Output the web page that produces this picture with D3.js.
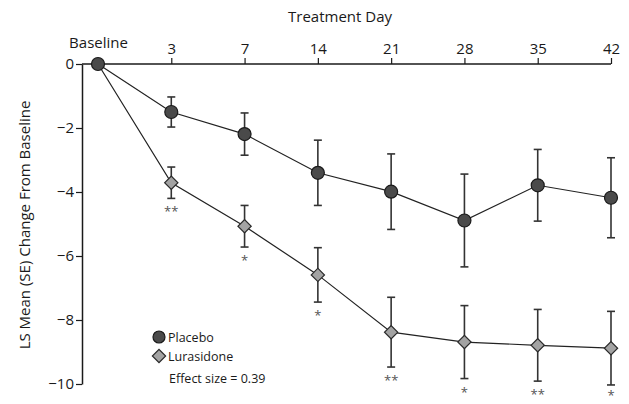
<!DOCTYPE html>
<html>
<head>
<meta charset="utf-8">
<script src="https://cdn.jsdelivr.net/npm/d3@7"></script>
<style>
body{margin:0;background:#fff;}
text{font-family:"Open Sans","DejaVu Sans",sans-serif;fill:#1a1a1a;}
</style>
</head>
<body>
<svg id="c" width="629" height="404"></svg>
<script>
const days = ["Baseline","3","7","14","21","28","35","42"];
const placeboMean = [0,-1.5,-2.19,-3.4,-3.99,-4.89,-3.79,-4.18];
const placeboSE   = [0,0.47,0.66,1.02,1.18,1.45,1.12,1.25];
const lurasMean   = [0,-3.71,-5.07,-6.59,-8.38,-8.69,-8.79,-8.88];
const lurasSE     = [0,0.49,0.65,0.85,1.09,1.14,1.12,1.15];
const signif      = ["","**","*","*","**","*","**","*"];
const yTicks = [0,-2,-4,-6,-8,-10];

const svg = d3.select("#c");
const x = d3.scalePoint().domain(days).range([98,611]);
const y = d3.scaleLinear().domain([-10,0]).range([384,64]);
const fmt = d => d===0 ? "0" : "\u2212"+Math.abs(d);

// left axis
const ya = svg.append("g").attr("transform","translate(82,0)")
  .call(d3.axisLeft(y).tickValues(yTicks).tickFormat(fmt).tickSize(6).tickSizeOuter(0));
ya.select(".domain").attr("stroke","#1a1a1a").attr("stroke-width",1.5);
ya.selectAll(".tick line").attr("stroke","#1a1a1a").attr("stroke-width",1.2);
ya.selectAll(".tick text").attr("font-size",15).attr("fill","#1a1a1a").attr("x",-8)
  .attr("font-family","'Open Sans',sans-serif");

// top axis
const xa = svg.append("g").attr("transform","translate(0,64)")
  .call(d3.axisTop(x).tickSize(6).tickSizeOuter(0));
xa.select(".domain").attr("d","M82,0H611").attr("stroke","#1a1a1a").attr("stroke-width",1.5);
xa.selectAll(".tick line").attr("stroke","#1a1a1a").attr("stroke-width",1.2);
xa.selectAll(".tick text").attr("font-size",15).attr("fill","#1a1a1a")
  .attr("font-family","'Open Sans',sans-serif")
  .attr("y",d=>d==="Baseline"?-16:-10);

svg.append("text").attr("x",340).attr("y",22).attr("text-anchor","middle")
  .attr("font-size",15).text("Treatment Day");
svg.append("text").attr("transform","translate(30,225) rotate(-90)")
  .attr("text-anchor","middle").attr("font-size",15).text("LS Mean (SE) Change From Baseline");

function series(mean, se){
  const data = days.map((d,i)=>({d, m:mean[i], s:se[i], i}));
  const g = svg.append("g");
  g.append("path").datum(data)
    .attr("d", d3.line().x(p=>x(p.d)).y(p=>y(p.m)))
    .attr("fill","none").attr("stroke","#222").attr("stroke-width",1.2);
  const eb = g.selectAll(".eb").data(data.filter(p=>p.s>0)).enter().append("g")
    .attr("stroke","#333").attr("stroke-width",1.6);
  eb.append("line").attr("x1",p=>x(p.d)).attr("x2",p=>x(p.d))
    .attr("y1",p=>y(p.m+p.s)).attr("y2",p=>y(p.m-p.s));
  eb.append("line").attr("x1",p=>x(p.d)-4).attr("x2",p=>x(p.d)+4)
    .attr("y1",p=>y(p.m+p.s)).attr("y2",p=>y(p.m+p.s));
  eb.append("line").attr("x1",p=>x(p.d)-4).attr("x2",p=>x(p.d)+4)
    .attr("y1",p=>y(p.m-p.s)).attr("y2",p=>y(p.m-p.s));
  return {g,data};
}
const L = series(lurasMean, lurasSE);
const P = series(placeboMean, placeboSE);

const diamond = d3.symbol().type(d3.symbolSquare).size(88);
L.g.selectAll(".m").data(L.data.filter(p=>p.i>0)).enter().append("path")
  .attr("d",diamond()).attr("transform",p=>`translate(${x(p.d)},${y(p.m)}) rotate(45)`)
  .attr("fill","#a3a3a3").attr("stroke","#2a2a2a").attr("stroke-width",1.2);
P.g.selectAll(".m").data(P.data).enter().append("circle")
  .attr("cx",p=>x(p.d)).attr("cy",p=>y(p.m)).attr("r",6.5)
  .attr("fill","#4a4a4a").attr("stroke","#1a1a1a").attr("stroke-width",1.2);

// significance asterisks
svg.selectAll(".sig").data(L.data.filter(p=>signif[p.i])).enter().append("text")
  .attr("x",p=>x(p.d)).attr("y",p=>Math.min(y(p.m-p.s)+18, 400)).attr("text-anchor","middle")
  .attr("font-size",13).style("fill","#555").text(p=>signif[p.i]);

// legend
const lg = svg.append("g");
lg.append("circle").attr("cx",159).attr("cy",337).attr("r",6)
  .attr("fill","#4a4a4a").attr("stroke","#1a1a1a").attr("stroke-width",1.2);
lg.append("path").attr("d",diamond()).attr("transform","translate(159,356) rotate(45)")
  .attr("fill","#a3a3a3").attr("stroke","#2a2a2a").attr("stroke-width",1.2);
lg.append("text").attr("x",168).attr("y",342).attr("font-size",12.5).text("Placebo");
lg.append("text").attr("x",168).attr("y",361).attr("font-size",12.5).text("Lurasidone");
lg.append("text").attr("x",169).attr("y",383).attr("font-size",12.5).text("Effect size = 0.39");
</script>
</body>
</html>
